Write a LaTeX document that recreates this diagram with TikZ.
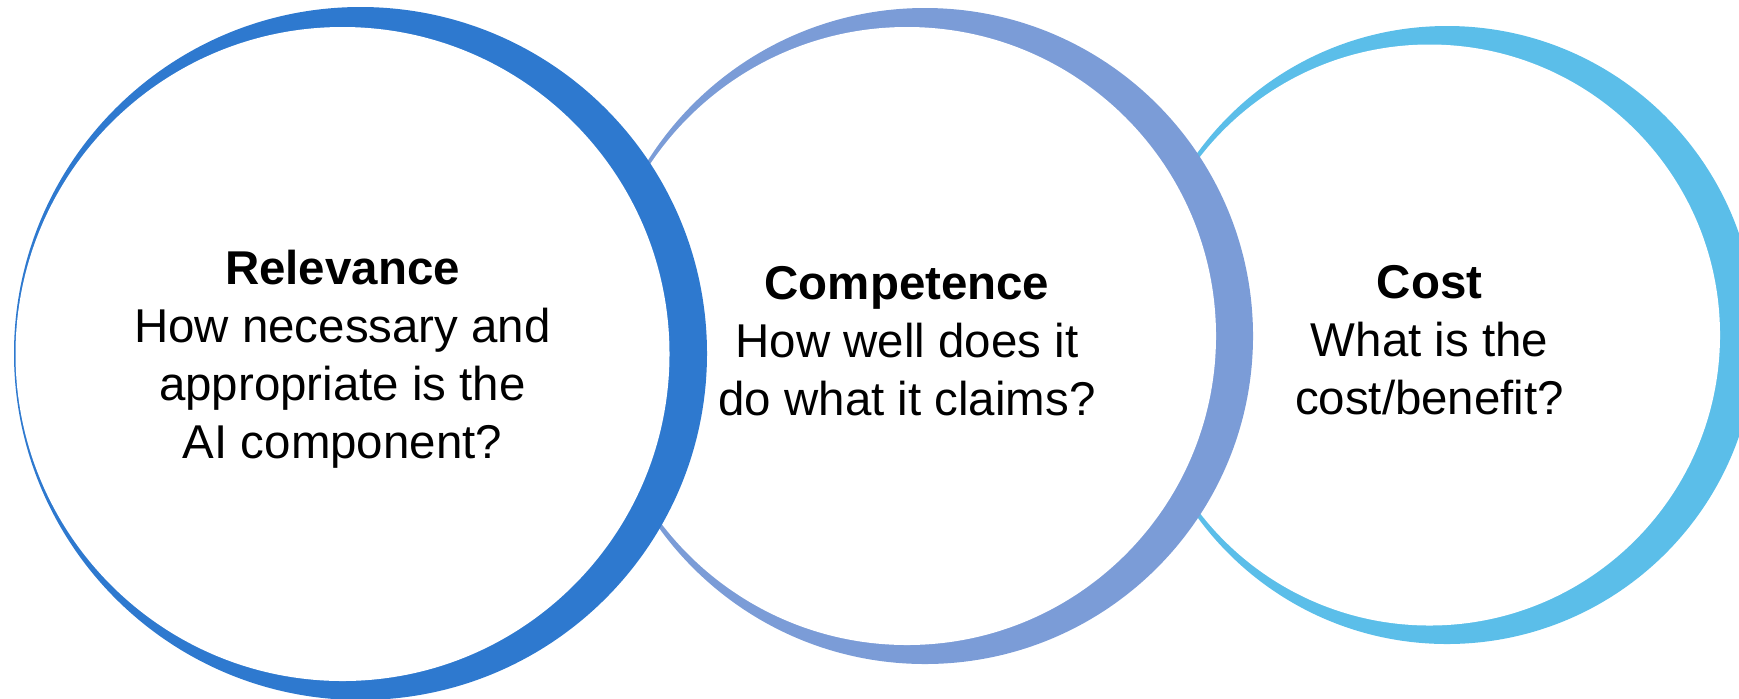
\documentclass[tikz,border=0pt]{standalone}
\usepackage{fontspec}
\setmainfont{Liberation Sans}
\usepackage{tikz}
\definecolor{relblue}{RGB}{46,121,207}
\definecolor{compblue}{RGB}{123,156,215}
\definecolor{costblue}{RGB}{91,190,233}

\begin{document}
\begin{tikzpicture}[
    ring/.style={circle,inner sep=0pt,outer sep=0pt,fill=#1},
    hole/.style={circle,inner sep=0pt,outer sep=0pt,fill=white},
    txt/.style={align=center,inner sep=0pt,font=\fontsize{13.5}{16.5}\selectfont}
]
\useasboundingbox (0,0) rectangle (17.39,-6.98);

% cost circle first, the others overlap it
\node[ring=costblue,minimum size=6.18cm] (costring) at (14.47,-3.35) {};
\node[hole,minimum size=5.81cm] (cost) at (14.295,-3.35) {};
\node[txt] (costtxt) at ([yshift=-0.05cm]cost.center) {\textbf{Cost}\\What is the\\cost/benefit?};

% competence circle
\node[ring=compblue,minimum size=6.56cm] (compring) at (9.25,-3.36) {};
\node[hole,minimum size=6.18cm] (comp) at (9.07,-3.36) {};
\node[txt] (comptxt) at ([yshift=-0.05cm]comp.center) {\textbf{Competence}\\How well does it\\do what it claims?};

% relevance circle on top
\node[ring=relblue,minimum size=6.93cm] (relring) at (3.605,-3.535) {};
\node[hole,minimum size=6.54cm] (rel) at (3.425,-3.54) {};
\node[txt] (reltxt) at ([yshift=-0.05cm]rel.center) {\textbf{Relevance}\\How necessary and\\appropriate is the\\AI component?};

\end{tikzpicture}
\end{document}
